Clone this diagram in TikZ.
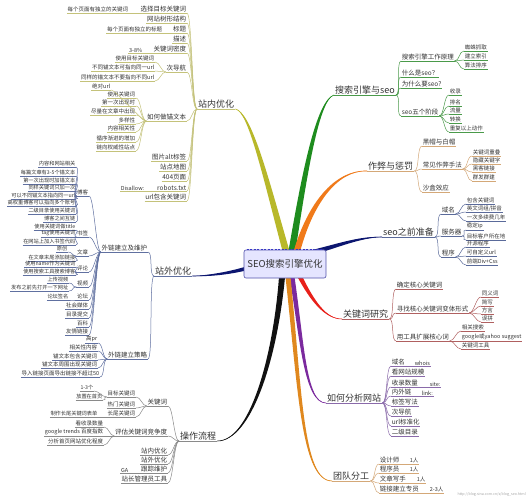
\documentclass[tikz,border=0pt]{standalone}
\usepackage{fontspec}
\setmainfont{Noto Sans CJK SC}
\usetikzlibrary{calc}
\definecolor{olv}{HTML}{B8B82A}\definecolor{uo}{HTML}{C4C27A}
\definecolor{grn}{HTML}{1E8C1E}\definecolor{ug}{HTML}{4A9A4A}
\definecolor{org}{HTML}{F07A1A}\definecolor{ut}{HTML}{D4A878}
\definecolor{nav}{HTML}{0C1670}\definecolor{un}{HTML}{5A6A9A}
\definecolor{rd}{HTML}{E8201A}\definecolor{ur}{HTML}{B06060}
\definecolor{pur}{HTML}{7B2A9E}\definecolor{up}{HTML}{8A6AAA}
\definecolor{tor}{HTML}{E0881E}
\definecolor{blk}{HTML}{111111}\definecolor{uk}{HTML}{8A8A8A}
\definecolor{uw}{HTML}{6070A0}
\definecolor{txt}{HTML}{333333}
\tikzset{
 L1/.style={font=\fontsize{9}{10}\selectfont,inner sep=1pt,text=txt},
 L2/.style={font=\fontsize{6.5}{7}\selectfont,inner sep=0.6pt,text=txt},
 L3/.style={font=\fontsize{5.5}{6}\selectfont,inner sep=0.6pt,text=txt},
 L4/.style={font=\fontsize{5.2}{6}\selectfont,inner sep=0.5pt,text=txt},
 cl/.style={line width=0.5pt},
}
\newcommand\itm[6]{\node[#1,anchor=#2] (#3) at (#4) {#5};
 \draw[#6,cl] (#3.south west) -- (#3.south east);}
\newcommand\kidsL[3]{\foreach \kk in {#3}{\draw[#1,cl] (#2.south west) .. controls +(-5,0) and +(5,0) .. (\kk.south east);}}
\newcommand\kidsR[3]{\foreach \kk in {#3}{\draw[#1,cl] (#2.south east) .. controls +(5,0) and +(-5,0) .. (\kk.south west);}}
\newcommand\branch[6]{%
 \fill[#1] ($(#2)+(#6)$) .. controls ($(#3)+0.75*(#6)$) and ($(#4)+0.4*(#6)$) .. (#5)
   .. controls ($(#4)-0.4*(#6)$) and ($(#3)-0.75*(#6)$) .. ($(#2)-(#6)$) -- cycle;
 \draw[#1,line width=0.6pt] (#2) .. controls (#3) and (#4) .. (#5);}
\begin{document}
\begin{tikzpicture}[x=1pt,y=-1pt]
\fill[white] (0,0) rectangle (528,500);
\useasboundingbox (0,0) rectangle (528,500);

% ---------- 站内优化 ----------
\itm{L1}{south west}{zn}{197,109}{站内优化}{uo}
\itm{L2}{south east}{z1}{187,13}{选择目标关键词}{uo}
\itm{L2}{south east}{z2}{187,23}{网站树形结构}{uo}
\itm{L2}{south east}{z3}{187,33}{标题}{uo}
\itm{L2}{south east}{z4}{187,43}{描述}{uo}
\itm{L2}{south east}{z5}{187,53}{关键词密度}{uo}
\itm{L2}{south east}{z6}{187,72}{次导航}{uo}
\itm{L2}{south east}{z7}{187,121}{如何做锚文本}{uo}
\itm{L2}{south east}{z8}{187,161}{图片alt标签}{uo}
\itm{L2}{south east}{z9}{187,171}{站点地图}{uo}
\itm{L2}{south east}{z10}{187,181}{404页面}{uo}
\itm{L2}{south east}{z11}{187,191}{robots.txt}{uo}
\itm{L2}{south east}{z12}{187,201}{url包含关键词}{uo}
\kidsL{uo}{zn}{z1,z2,z3,z4,z5,z6,z7,z8,z9,z10,z11,z12}
\itm{L3}{south east}{z1a}{129,13}{每个页面有独立的关键词}{uo}
\itm{L3}{south east}{z3a}{163,33}{每个页面有独立的标题}{uo}
\itm{L3}{south east}{z5a}{143,53}{3-8\%}{uo}
\itm{L3}{south east}{z6a}{155,62}{使用目标关键词}{uo}
\itm{L3}{south east}{z6b}{155,71}{不同锚文本可指向同一url}{uo}
\itm{L3}{south east}{z6c}{155,81}{同样的锚文本不要指向不同url}{uo}
\itm{L3}{south east}{z7a}{111,90}{绝对url}{uo}
\itm{L3}{south east}{z7b}{136,98}{使用关键词}{uo}
\itm{L3}{south east}{z7c}{136,106}{第一次出现时}{uo}
\itm{L3}{south east}{z7d}{136,115}{尽量在文章中出现}{uo}
\itm{L3}{south east}{z7e}{136,124}{多样性}{uo}
\itm{L3}{south east}{z7f}{136,132}{内容相关性}{uo}
\itm{L3}{south east}{z7g}{136,142}{循序渐进的增加}{uo}
\itm{L3}{south east}{z7h}{136,151}{链向权威性站点}{uo}
\itm{L3}{south east}{z11a}{145,191}{Disallow:}{uo}
\kidsL{uo}{z1}{z1a}\kidsL{uo}{z3}{z3a}\kidsL{uo}{z5}{z5a}
\kidsL{uo}{z6}{z6a,z6b,z6c}
\kidsL{uo}{z7}{z7a,z7b,z7c,z7d,z7e,z7f,z7g,z7h}
\kidsL{uo}{z11}{z11a}

% ---------- 搜索引擎与seo ----------
\itm{L1}{south west}{s0}{334,95}{搜索引擎与seo}{ug}
\itm{L2}{south west}{s1}{401,61}{搜索引擎工作原理}{ug}
\itm{L2}{south west}{s2}{401,77}{什么是seo？}{ug}
\itm{L2}{south west}{s3}{401,88}{为什么要seo?}{ug}
\itm{L2}{south west}{s4}{401,116}{seo五个阶段}{ug}
\kidsR{ug}{s0}{s1,s2,s3,s4}
\itm{L3}{south west}{s1a}{464,51}{蜘蛛抓取}{ug}
\itm{L3}{south west}{s1b}{464,60}{建立索引}{ug}
\itm{L3}{south west}{s1c}{464,69}{算法排序}{ug}
\kidsR{ug}{s1}{s1a,s1b,s1c}
\itm{L3}{south west}{s4a}{449,95}{收录}{ug}
\itm{L3}{south west}{s4b}{449,106}{排名}{ug}
\itm{L3}{south west}{s4c}{449,114}{流量}{ug}
\itm{L3}{south west}{s4d}{449,123}{转换}{ug}
\itm{L3}{south west}{s4e}{449,132}{重复以上动作}{ug}
\kidsR{ug}{s4}{s4a,s4b,s4c,s4d,s4e}

% ---------- 作弊与惩罚 ----------
\itm{L1}{south west}{p0}{367,171}{作弊与惩罚}{ut}
\itm{L2}{south west}{p1}{422,146}{黑帽与白帽}{ut}
\itm{L2}{south west}{p2}{422,169}{常见作弊手法}{ut}
\itm{L2}{south west}{p3}{422,192}{沙盒效应}{ut}
\kidsR{ut}{p0}{p1,p2,p3}
\itm{L3}{south west}{p2a}{472,156}{关键词重叠}{ut}
\itm{L3}{south west}{p2b}{472,164}{隐藏关键字}{ut}
\itm{L3}{south west}{p2c}{472,172}{黑客链接}{ut}
\itm{L3}{south west}{p2d}{472,181}{群发群建}{ut}
\kidsR{ut}{p2}{p2a,p2b,p2c,p2d}

% ---------- seo之前准备 ----------
\itm{L1}{south west}{q0}{382,237}{seo之前准备}{un}
\itm{L2}{south west}{q1}{441,214}{域名}{un}
\itm{L2}{south west}{q2}{441,236}{服务器}{un}
\itm{L2}{south west}{q3}{441,257}{程序}{un}
\kidsR{un}{q0}{q1,q2,q3}
\itm{L3}{south west}{q1a}{466,204}{包含关键词}{un}
\itm{L3}{south west}{q1b}{466,212}{英文词组/拼音}{un}
\itm{L3}{south west}{q1c}{466,221}{一次多续费几年}{un}
\itm{L3}{south west}{q2a}{466,230}{稳定ip}{un}
\itm{L3}{south west}{q2b}{466,240}{目标客户所在地}{un}
\itm{L3}{south west}{q3a}{466,247}{开源程序}{un}
\itm{L3}{south west}{q3b}{466,256}{可自定义url}{un}
\itm{L3}{south west}{q3c}{466,265}{前端Div+Css}{un}
\kidsR{un}{q1}{q1a,q1b,q1c}\kidsR{un}{q2}{q2a,q2b}\kidsR{un}{q3}{q3a,q3b,q3c}

% ---------- 关键词研究 ----------
\itm{L1}{south west}{k0}{342,319}{关键词研究}{ur}
\itm{L2}{south west}{k1}{396,289}{确定核心关键词}{ur}
\itm{L2}{south west}{k2}{396,313}{寻找核心关键词变体形式}{ur}
\itm{L2}{south west}{k3}{396,341}{用工具扩展核心词}{ur}
\kidsR{ur}{k0}{k1,k2,k3}
\itm{L3}{south west}{k2a}{481,297}{同义词}{ur}
\itm{L3}{south west}{k2b}{481,306}{简写}{ur}
\itm{L3}{south west}{k2c}{481,314}{方言}{ur}
\itm{L3}{south west}{k2d}{481,322}{误拼}{ur}
\kidsR{ur}{k2}{k2a,k2b,k2c,k2d}
\itm{L3}{south west}{k3a}{461,331}{相关搜索}{ur}
\itm{L3}{south west}{k3b}{461,341}{google或yahoo suggest}{ur}
\itm{L3}{south west}{k3c}{461,349}{关键词工具}{ur}
\kidsR{ur}{k3}{k3a,k3b,k3c}

% ---------- 如何分析网站 ----------
\itm{L1}{south west}{a0}{326,403}{如何分析网站}{up}
\itm{L2}{south west}{a1}{391,366}{域名}{up}
\itm{L2}{south west}{a2}{391,376}{看网站规模}{up}
\itm{L2}{south west}{a3}{391,387}{收录数量}{up}
\itm{L2}{south west}{a4}{391,396}{内外链}{up}
\itm{L2}{south west}{a5}{391,406}{标签写法}{up}
\itm{L2}{south west}{a6}{391,416}{次导航}{up}
\itm{L2}{south west}{a7}{391,426}{url标准化}{up}
\itm{L2}{south west}{a8}{391,436}{二级目录}{up}
\kidsR{up}{a0}{a1,a2,a3,a4,a5,a6,a7,a8}
\itm{L3}{south west}{a1a}{414,366}{whois}{up}
\itm{L3}{south west}{a3a}{429,387}{site:}{up}
\itm{L3}{south west}{a4a}{421,396}{link:}{up}
\kidsR{up}{a1}{a1a}\kidsR{up}{a3}{a3a}\kidsR{up}{a4}{a4a}

% ---------- 团队分工 ----------
\itm{L1}{south west}{t0}{332,481}{团队分工}{ut}
\itm{L2}{south west}{t1}{379,464}{设计师}{ut}
\itm{L2}{south west}{t2}{379,473}{程序员}{ut}
\itm{L2}{south west}{t3}{379,483}{文章写手}{ut}
\itm{L2}{south west}{t4}{379,493}{链接建立专员}{ut}
\kidsR{ut}{t0}{t1,t2,t3,t4}
\itm{L3}{south west}{t1a}{409,464}{1人}{ut}
\itm{L3}{south west}{t2a}{409,473}{1人}{ut}
\itm{L3}{south west}{t3a}{416,483}{1人}{ut}
\itm{L3}{south west}{t4a}{429,493}{2-3人}{ut}
\kidsR{ut}{t1}{t1a}\kidsR{ut}{t2}{t2a}\kidsR{ut}{t3}{t3a}\kidsR{ut}{t4}{t4a}

% ---------- 操作流程 ----------
\itm{L1}{south west}{o0}{179,441}{操作流程}{uk}
\itm{L2}{south east}{o1}{168,406}{关键词}{uk}
\itm{L2}{south east}{o2}{168,436}{评估关键词竞争度}{uk}
\itm{L2}{south east}{o3}{168,455}{站内优化}{uk}
\itm{L2}{south east}{o4}{168,464}{站外优化}{uk}
\itm{L2}{south east}{o5}{168,473}{跟踪维护}{uk}
\itm{L2}{south east}{o6}{168,483}{站长管理员工具}{uk}
\kidsL{uk}{o0}{o1,o2,o3,o4,o5,o6}
\itm{L3}{south east}{o1a}{136,397}{目标关键词}{uk}
\itm{L3}{south east}{o1b}{136,408}{热门关键词}{uk}
\itm{L3}{south east}{o1c}{136,417}{长尾关键词}{uk}
\kidsL{uk}{o1}{o1a,o1b,o1c}
\itm{L4}{south east}{o1a1}{94,391}{1-3个}{uk}
\itm{L4}{south east}{o1a2}{103,400}{放置在首页}{uk}
\kidsL{uk}{o1a}{o1a1,o1a2}
\itm{L4}{south east}{o1c1}{98,417}{制作长尾关键词表单}{uk}
\kidsL{uk}{o1c}{o1c1}
\itm{L3}{south east}{o2a}{104,427}{看收录数量}{uk}
\itm{L3}{south east}{o2b}{104,436}{google trends 百度指数}{uk}
\itm{L3}{south east}{o2c}{104,445}{分析首页网站优化程度}{uk}
\kidsL{uk}{o2}{o2a,o2b,o2c}
\itm{L3}{south east}{o5a}{129,473}{GA}{uk}
\kidsL{uk}{o5}{o5a}

% ---------- 站外优化 ----------
\itm{L1}{south west}{w0}{154,276}{站外优化}{uw}
\itm{L2}{south east}{w1}{148,252}{外链建立及维护}{uw}
\itm{L2}{south east}{w2}{148,359}{外链建立策略}{uw}
\kidsL{uw}{w0}{w1,w2}
\itm{L3}{south east}{b1}{89,196}{博客}{uw}
\itm{L3}{south east}{b2}{89,237}{书签}{uw}
\itm{L3}{south east}{b3}{89,256}{文章}{uw}
\itm{L3}{south east}{b4}{89,272}{评论}{uw}
\itm{L3}{south east}{b5}{89,287}{视频}{uw}
\itm{L3}{south east}{b6}{89,300}{论坛}{uw}
\itm{L3}{south east}{b7}{89,309}{社会媒体}{uw}
\itm{L3}{south east}{b8}{89,318}{目录提交}{uw}
\itm{L3}{south east}{b9}{89,327}{百科}{uw}
\itm{L3}{south east}{b10}{89,335}{友情链接}{uw}
\kidsL{uw}{w1}{b1,b2,b3,b4,b5,b6,b7,b8,b9,b10}
\itm{L4}{south east}{b1a}{76,167}{内容和网站相关}{uw}
\itm{L4}{south east}{b1b}{76,176}{每篇文章有3-5个锚文本}{uw}
\itm{L4}{south east}{b1c}{76,184}{第一次出现时加锚文本}{uw}
\itm{L4}{south east}{b1d}{76,191}{同样关键词只加一次}{uw}
\itm{L4}{south east}{b1e}{76,199}{可以不同锚文本指向同一url}{uw}
\itm{L4}{south east}{b1f}{76,206}{高权重博客可以指向多个账号}{uw}
\itm{L4}{south east}{b1g}{76,214}{二级目录使用关键词}{uw}
\itm{L4}{south east}{b1h}{76,222}{博客之间互链}{uw}
\kidsL{uw}{b1}{b1a,b1b,b1c,b1d,b1e,b1f,b1g,b1h}
\itm{L4}{south east}{b2a}{76,230}{使用关键词做title}{uw}
\itm{L4}{south east}{b2b}{76,237}{tag使用关键词}{uw}
\itm{L4}{south east}{b2c}{76,245}{在网站上加入书签代码}{uw}
\kidsL{uw}{b2}{b2a,b2b,b2c}
\itm{L4}{south east}{b3a}{68,252}{原创}{uw}
\itm{L4}{south east}{b3b}{76,261}{在文章末尾添加链接}{uw}
\kidsL{uw}{b3}{b3a,b3b}
\itm{L4}{south east}{b4a}{76,267}{使用name作为关键词}{uw}
\itm{L4}{south east}{b4b}{76,275}{使用搜索工具搜索博客}{uw}
\kidsL{uw}{b4}{b4a,b4b}
\itm{L4}{south east}{b5a}{69,283}{上传视频}{uw}
\itm{L4}{south east}{b5b}{69,291}{发布之前先打开一下网址}{uw}
\kidsL{uw}{b5}{b5a,b5b}
\itm{L4}{south east}{b6a}{69,300}{论坛签名}{uw}
\kidsL{uw}{b6}{b6a}
\itm{L3}{south east}{x1}{98,343}{高pr}{uw}
\itm{L3}{south east}{x2}{98,351}{相关性内容}{uw}
\itm{L3}{south east}{x3}{98,360}{锚文本包含关键词}{uw}
\itm{L3}{south east}{x4}{98,368}{锚文本周围出现关键词}{uw}
\itm{L3}{south east}{x5}{100,377}{导入链接页面导出链接不超过50}{uw}
\kidsL{uw}{w2}{x1,x2,x3,x4,x5}

% ---------- main branches ----------
\branch{olv}{286,251}{265,175}{250,112}{zn.south east}{3.5,0}
\branch{grn}{292,251}{305,170}{318,100}{s0.south west}{3.5,0}
\branch{org}{297,251}{310,205}{335,170}{p0.south west}{3,1}
\branch{nav}{314,252}{340,245}{360,237}{q0.south west}{0,2.5}
\branch{rd}{300,277}{312,300}{325,319}{k0.south west}{2.5,0}
\branch{pur}{292,277}{302,340}{305,403}{a0.south west}{2.5,0}
\branch{tor}{288,277}{300,390}{302,481}{t0.south west}{2.5,0}
\branch{blk}{282,277}{275,360}{250,441}{o0.south east}{3,0}
\branch{nav}{248,268}{230,273}{210,276}{w0.south east}{0,2}

% ---------- centre ----------
\node[draw=blue!35!gray,line width=0.6pt,fill=blue!10!white,rounded corners=2pt,
 minimum width=78pt,minimum height=28pt,font=\fontsize{9.5}{11}\selectfont,text=txt] (c) at (285,264) {SEO搜索引擎优化};
\draw[blue!55!gray,line width=1.6pt,dash pattern=on 2pt off 1.5pt] ([xshift=3pt]c.north west) -- ([xshift=-3pt]c.north east);

% ---------- watermark ----------
\node[font=\fontsize{3.6}{4}\selectfont,text=gray!70,inner sep=0pt,anchor=east] (wm) at (526,495) {http://blog.sina.com.cn/s/blog\_seo.html};
\end{tikzpicture}
\end{document}
